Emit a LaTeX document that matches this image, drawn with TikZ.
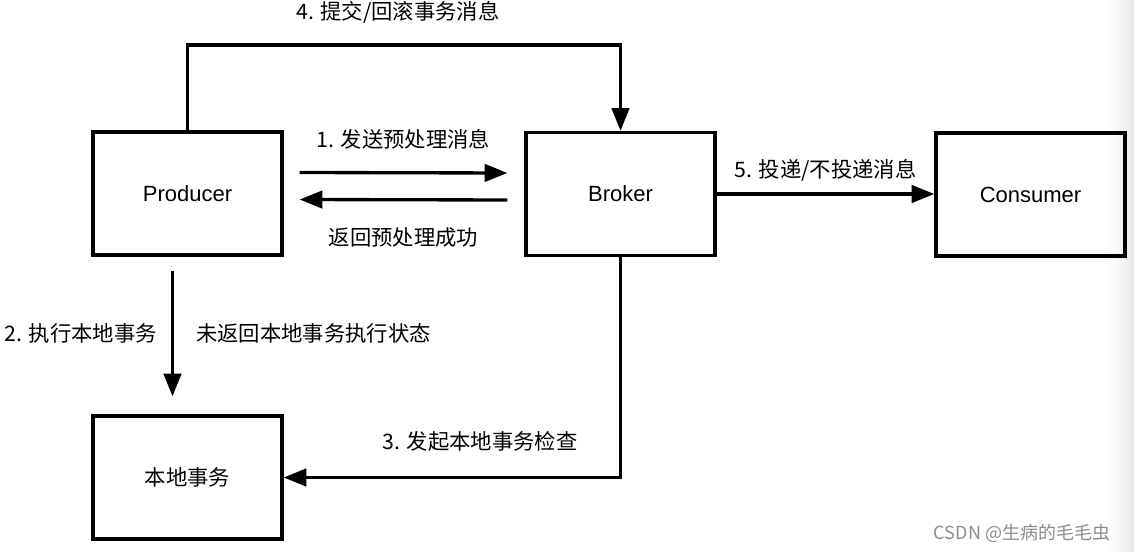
\documentclass[tikz,border=0pt]{standalone}
\usepackage{fontspec}
\setmainfont{Liberation Sans}
\newfontfamily\cjk{Noto Sans CJK SC}
\usepackage{tikz}
\usetikzlibrary{positioning,calc,arrows.meta}

\begin{document}
\begin{tikzpicture}[x=0.75pt,y=-0.75pt,
		box/.style={draw,line width=2.5pt,minimum width=141.75pt,minimum height=92.25pt,font=\fontsize{16.5}{19}\selectfont},
		arr/.style={line width=2.5pt,-{Triangle[length=17pt,width=13pt]}},
		lab/.style={inner sep=0pt,font=\cjk\fontsize{16}{19}\selectfont}]

			\useasboundingbox (0,0) rectangle (1134,552);
			\shade[left color=white,right color=black!9] (1108,0) rectangle (1134,552);

			\node[box] (P) at (187.5,193.5) {Producer};
			\node[box] (B) at (620.5,194) {Broker};
			\node[box] (C) at (1030.5,194.5) {Consumer};
			\node[box,font=\cjk\fontsize{16}{19}\selectfont] (L) at (187.5,477.5) {本地事务};

			\coordinate (t) at (400,45);
			\draw[arr] (P.north) |- (t) -| (B.north);
			\node[lab] (t4) at (398,12) {4. 提交/回滚事务消息};

			\draw[arr] ($(P.east)+(16,-21)$) -- node[lab,above=16pt]{1. 发送预处理消息} ($(B.west)+(-17,-21)$);
			\draw[arr] ($(B.west)+(-17,6)$) -- node[lab,below=20pt]{返回预处理成功} ($(P.east)+(16,6)$);

			\draw[arr] ($(P.south)+(-15,14)$) -- node[lab,left=10.5pt]{2. 执行本地事务} node[lab,right=16.5pt]{未返回本地事务执行状态} ($(L.north)+(-15,-18)$);

			\draw[arr] (B.south) |- (L.east);
			\node[lab] (t3) at (480,441) {3. 发起本地事务检查};

			\draw[arr] (B.east) -- node[lab,above=8pt]{5. 投递/不投递消息} (B.east -| C.west);

			\node[lab,text=black!45,font=\cjk\fontsize{13.5}{16}\selectfont] (wm) at (1022,533) {CSDN @生病的毛毛虫};

		\end{tikzpicture}
\end{document}
